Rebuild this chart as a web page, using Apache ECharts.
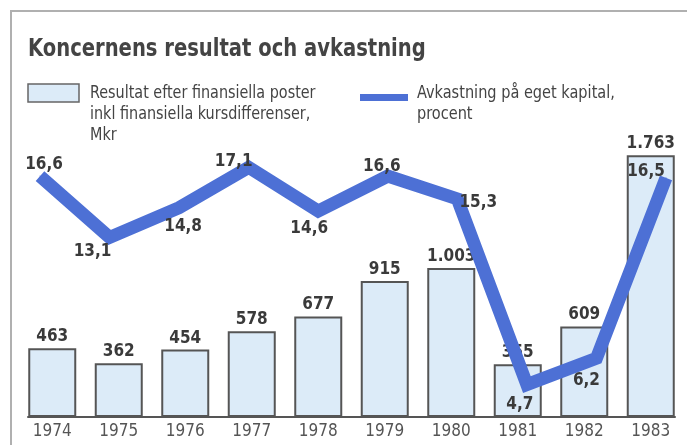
<!DOCTYPE html>
<html>
<head>
<meta charset="utf-8">
<script src="https://cdn.jsdelivr.net/npm/echarts@6/dist/echarts.min.js"></script>
<style>
  html, body { margin: 0; padding: 0; background: #fff; }
  #chart { width: 687px; height: 445px; }
</style>
</head>
<body>
<div id="chart"></div>
<script>
// data
const years = ['1974', '1975', '1976', '1977', '1978', '1979', '1980', '1981', '1982', '1983']
const resultat = [463, 362, 454, 578, 677, 915, 1003, 355, 609, 1763]   // Mkr
const avkastning = [16.6, 13.1, 14.8, 17.1, 14.6, 16.6, 15.3, 4.7, 6.2, 16.5] // procent

const FONT = "'Liberation Sans Narrow', 'DejaVu Sans Condensed', 'Roboto Condensed', sans-serif"
const TEXT = '#3a3a3a'
const BLUE = '#4d70d5'
const BAR_FILL = '#dcebf8'
const BAR_EDGE = '#555'

// where each percent label sits relative to its point
const lineLabelOffsets = [[4, -11], [-17, 14], [4, 19], [-15, -6], [-9, 17], [-6, -9], [21, 4], [-7, 20], [-10, 22], [-20, -6]]

const fmtMkr = v => v >= 1000 ? Math.floor(v / 1000) + '.' + String(v % 1000).padStart(3, '0') : String(v)
const fmtPct = v => v.toFixed(1).replace('.', ',')

const chart = echarts.init(document.getElementById('chart'))

chart.setOption({
  animation: false,
  backgroundColor: '#fff',
  grid: [
    { left: 19, right: 3, top: 120, bottom: 28 },
    // the percent line is spread a little wider than the bars
    { left: 40, right: 21, top: 120, bottom: 28 }
  ],
  xAxis: [
    {
      type: 'category', gridIndex: 0, data: years,
      axisLine: { show: false }, axisTick: { show: false },
      axisLabel: { color: '#555', fontSize: 17, fontFamily: FONT, margin: 6 }
    },
    { type: 'category', gridIndex: 1, data: years, boundaryGap: false, show: false }
  ],
  yAxis: [
    { type: 'value', gridIndex: 0, min: 0, max: 2000, show: false, splitLine: { show: false } },
    { type: 'value', gridIndex: 1, min: 2.85, max: 19.8, show: false, splitLine: { show: false } }
  ],
  series: [
    {
      name: 'Resultat',
      type: 'bar',
      xAxisIndex: 0, yAxisIndex: 0,
      data: resultat,
      barWidth: 48,
      itemStyle: { color: BAR_FILL, borderColor: BAR_EDGE, borderWidth: 2 },
      label: {
        show: true, position: 'top', distance: 3,
        color: TEXT, fontSize: 17, fontWeight: 'bold', fontFamily: FONT,
        formatter: p => fmtMkr(p.value)
      },
      z: 2
    },
    {
      name: 'Avkastning',
      type: 'line',
      xAxisIndex: 1, yAxisIndex: 1,
      data: avkastning.map((v, i) => ({ value: v, label: { offset: lineLabelOffsets[i] } })),
      symbol: 'circle', symbolSize: 1,
      itemStyle: { color: BLUE },
      lineStyle: { color: BLUE, width: 13, cap: 'butt', join: 'miter' },
      label: {
        show: true, position: 'inside',
        color: TEXT, fontSize: 17, fontWeight: 'bold', fontFamily: FONT,
        formatter: p => fmtPct(p.value)
      },
      z: 3
    }
  ]
})

// frame, title, legend and the baseline under the bars
const x0 = chart.convertToPixel({ xAxisIndex: 0 }, 0) - 24
const x1 = chart.convertToPixel({ xAxisIndex: 0 }, years.length - 1) + 24
const yBase = chart.convertToPixel({ yAxisIndex: 0 }, 0)

chart.setOption({
  graphic: [
    { type: 'line', shape: { x1: 10, y1: 11, x2: 687, y2: 11 }, style: { stroke: '#b0b0b0', lineWidth: 2 } },
    { type: 'line', shape: { x1: 11, y1: 11, x2: 11, y2: 445 }, style: { stroke: '#b0b0b0', lineWidth: 2 } },
    { type: 'line', shape: { x1: x0 - 1, y1: yBase, x2: x1 + 1, y2: yBase }, style: { stroke: BAR_EDGE, lineWidth: 2 }, z: 10 },
    {
      type: 'text', x: 28, y: 37, scaleX: 0.87,
      style: { text: 'Koncernens resultat och avkastning', fill: '#444', font: "bold 25px " + FONT }
    },
    { type: 'rect', shape: { x: 28, y: 84, width: 51, height: 18 }, style: { fill: BAR_FILL, stroke: '#666', lineWidth: 1.5 } },
    {
      type: 'text', x: 90, y: 83, scaleX: 0.94,
      style: { text: 'Resultat efter finansiella poster\ninkl finansiella kursdifferenser,\nMkr', fill: '#444', font: "17px " + FONT, lineHeight: 21 }
    },
    { type: 'rect', shape: { x: 360, y: 94, width: 48, height: 7 }, style: { fill: BLUE } },
    {
      type: 'text', x: 417, y: 83, scaleX: 0.95,
      style: { text: 'Avkastning på eget kapital,\nprocent', fill: '#444', font: "17px " + FONT, lineHeight: 21 }
    }
  ]
})
</script>
</body>
</html>
